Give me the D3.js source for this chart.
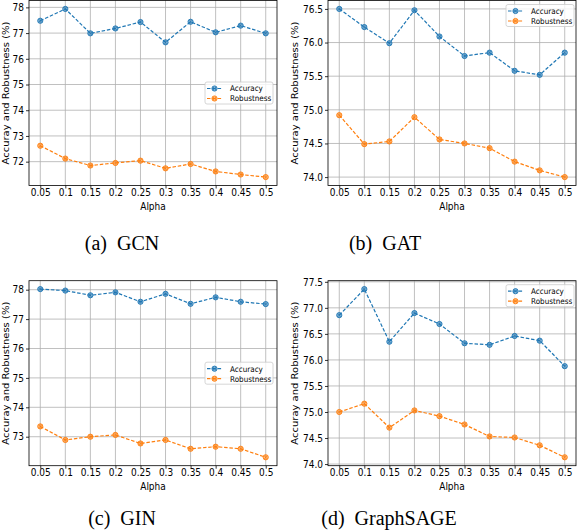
<!DOCTYPE html>
<html>
<head>
<meta charset="utf-8">
<script src="https://cdn.jsdelivr.net/npm/d3@7"></script>
<style>
  body { margin: 0; background: #fff; }
  svg { display: block; }
</style>
</head>
<body>
<div class="chart"></div>
<script>
// values
const alphas = [0.05, 0.1, 0.15, 0.2, 0.25, 0.3, 0.35, 0.4, 0.45, 0.5];
const alphaLabels = ["0.05", "0.1", "0.15", "0.2", "0.25", "0.3", "0.35", "0.4", "0.45", "0.5"];

const gcnAccuracy = [77.48, 77.94, 76.99, 77.18, 77.43, 76.64, 77.44, 77.03, 77.29, 76.99];
const gcnRobustness = [72.62, 72.12, 71.85, 71.95, 72.04, 71.74, 71.91, 71.62, 71.50, 71.40];
const gatAccuracy = [76.50, 76.23, 75.99, 76.48, 76.09, 75.80, 75.85, 75.58, 75.52, 75.85];
const gatRobustness = [74.92, 74.49, 74.53, 74.89, 74.56, 74.50, 74.43, 74.23, 74.10, 74.00];
const ginAccuracy = [78.02, 77.97, 77.81, 77.91, 77.59, 77.86, 77.52, 77.74, 77.59, 77.51];
const ginRobustness = [73.35, 72.89, 73.00, 73.06, 72.77, 72.89, 72.59, 72.66, 72.59, 72.30];
const sageAccuracy = [76.86, 77.36, 76.35, 76.90, 76.69, 76.32, 76.29, 76.46, 76.37, 75.88];
const sageRobustness = [75.00, 75.16, 74.70, 75.03, 74.92, 74.76, 74.53, 74.51, 74.36, 74.13];

const gcnTicks = [72, 73, 74, 75, 76, 77, 78];
const gatTicks = [74.0, 74.5, 75.0, 75.5, 76.0, 76.5];
const ginTicks = [73, 74, 75, 76, 77, 78];
const sageTicks = [74.0, 74.5, 75.0, 75.5, 76.0, 76.5, 77.0, 77.5];

const captions = ["(a)  GCN", "(b)  GAT", "(c)  GIN", "(d)  GraphSAGE"];
const seriesNames = ["Accuracy", "Robustness"];
const color = ["#1f77b4", "#ff7f0e"];

// layout (not data)
const W = 578, H = 530;
const pw = 248, ph = 185;
const panels = [
  {left: 29, top: 0.5, acc: gcnAccuracy, rob: gcnRobustness, ticks: gcnTicks, fmt: d3.format("d"), legend: "center", ylab: -20.5, cap: captions[0], capX: 122, capY: 250},
  {left: 328, top: 0.5, acc: gatAccuracy, rob: gatRobustness, ticks: gatTicks, fmt: d3.format(".1f"), legend: "upper", ylab: -30.5, cap: captions[1], capX: 385, capY: 250},
  {left: 29, top: 280.7, acc: ginAccuracy, rob: ginRobustness, ticks: ginTicks, fmt: d3.format("d"), legend: "center", ylab: -20.5, cap: captions[2], capX: 122, capY: 525},
  {left: 328, top: 280.7, acc: sageAccuracy, rob: sageRobustness, ticks: sageTicks, fmt: d3.format(".1f"), legend: "upper", ylab: -30.5, cap: captions[3], capX: 389, capY: 525}
];

const squish = "scale(0.9,1)";
const font = "DejaVu Sans, sans-serif";

const svg = d3.select(".chart").append("svg")
  .attr("width", W)
  .attr("height", H);

const x = d3.scaleLinear()
  .domain([0.05 - 0.0225, 0.5 + 0.0225])
  .range([0, pw]);

const drawMarker = function(g, cx, cy, c) {
  g.append("circle")
    .attr("cx", cx).attr("cy", cy).attr("r", 2.6)
    .style("fill", c).style("fill-opacity", 0.55)
    .style("stroke", c).style("stroke-width", 0.9);
  var d = 1.6;
  g.append("path")
    .attr("d", "M" + (cx - d) + "," + (cy - d) + "L" + (cx + d) + "," + (cy + d) +
               "M" + (cx - d) + "," + (cy + d) + "L" + (cx + d) + "," + (cy - d))
    .style("stroke", c).style("stroke-width", 0.7).style("fill", "none");
}

panels.forEach((p) => {
  const lo = d3.min(p.rob.concat(p.acc)), hi = d3.max(p.rob.concat(p.acc));
  const pad = (hi - lo) * 0.05;
  const y = d3.scaleLinear().domain([lo - pad, hi + pad]).range([ph, 0]);

  const g = svg.append("g").attr("transform", "translate(" + p.left + "," + p.top + ")");

  // grid
  g.append("g").selectAll("line").data(alphas).enter().append("line")
    .attr("x1", (d) => x(d)).attr("x2", (d) => x(d))
    .attr("y1", 0).attr("y2", ph)
    .style("stroke", "#b0b0b0").style("stroke-width", 0.8);
  g.append("g").selectAll("line").data(p.ticks).enter().append("line")
    .attr("x1", 0).attr("x2", pw)
    .attr("y1", (d) => y(d)).attr("y2", (d) => y(d))
    .style("stroke", "#b0b0b0").style("stroke-width", 0.8);

  // axes
  const xAxis = g.append("g")
    .attr("transform", "translate(0," + ph + ")")
    .call(d3.axisBottom(x).tickValues(alphas).tickFormat((d, i) => alphaLabels[i]).tickSizeInner(3).tickSizeOuter(0));
  xAxis.selectAll("text")
    .attr("y", 0).attr("dy", null)
    .attr("transform", "translate(0,10.7) " + squish)
    .style("font-family", font).style("font-size", "10px").style("fill", "#000");

  const yAxis = g.append("g")
    .call(d3.axisLeft(y).tickValues(p.ticks).tickFormat(p.fmt).tickSizeInner(3).tickSizeOuter(0));
  yAxis.selectAll("text")
    .attr("x", 0)
    .attr("transform", "translate(-5,0) " + squish)
    .style("font-family", font).style("font-size", "10px").style("fill", "#000");
  [xAxis, yAxis].forEach((a) => {
    a.select(".domain").remove();
    a.selectAll("line").style("stroke", "#000").style("stroke-width", 0.8);
  });

  // frame
  g.append("rect")
    .attr("width", pw).attr("height", ph)
    .style("fill", "none").style("stroke", "#000").style("stroke-width", 0.8);

  // labels
  g.append("text")
    .attr("transform", "translate(" + (pw / 2) + "," + (ph + 24) + ") " + squish)
    .attr("text-anchor", "middle")
    .style("font-family", font).style("font-size", "10px")
    .text("Alpha");
  g.append("text")
    .attr("transform", "translate(" + p.ylab + "," + (ph / 2) + ") " + squish + " rotate(-90)")
    .attr("text-anchor", "middle")
    .style("font-family", font).style("font-size", "10px")
    .text("Accuray and Robustness (%)");

  // series
  var line = d3.line()
    .x((d, i) => x(alphas[i]))
    .y((d) => y(d));
  [p.acc, p.rob].forEach((vals, k) => {
    g.append("path")
      .attr("d", line(vals))
      .style("fill", "none")
      .style("stroke", color[k])
      .style("stroke-width", 1.2)
      .style("stroke-dasharray", "3.5,1.8");
    const mg = g.append("g");
    vals.forEach((v, i) => drawMarker(mg, x(alphas[i]), y(v), color[k]));
  });

  // legend
  const lw = 68, lh = 22;
  const lx = p.legend == "upper" ? pw - 2 - lw : pw - 4 - lw;
  const ly = p.legend == "upper" ? 4 : ph / 2 - lh / 2;
  const lg = g.append("g").attr("transform", "translate(" + lx + "," + ly + ")");
  lg.append("rect")
    .attr("width", lw).attr("height", lh).attr("rx", 2)
    .style("fill", "#fff").style("fill-opacity", 0.8)
    .style("stroke", "#ccc").style("stroke-width", 0.8);
  seriesNames.forEach((name, k) => {
    const ry = 6.5 + k * 10;
    lg.append("line")
      .attr("x1", 2).attr("x2", 17).attr("y1", ry).attr("y2", ry)
      .style("stroke", color[k]).style("stroke-width", 1.2)
      .style("stroke-dasharray", "3.5,1.8");
    drawMarker(lg, 9.5, ry, color[k]);
    lg.append("text")
      .attr("transform", "translate(25," + (ry + 2.8) + ") " + squish)
      .style("font-family", font).style("font-size", "8px")
      .text(name);
  });

  // caption
  svg.append("text")
    .attr("x", p.capX).attr("y", p.capY)
    .attr("text-anchor", "middle")
    .style("font-family", "Liberation Serif, Times New Roman, serif")
    .style("font-size", "20px")
    .style("white-space", "pre")
    .text(p.cap);
});
</script>
</body>
</html>
